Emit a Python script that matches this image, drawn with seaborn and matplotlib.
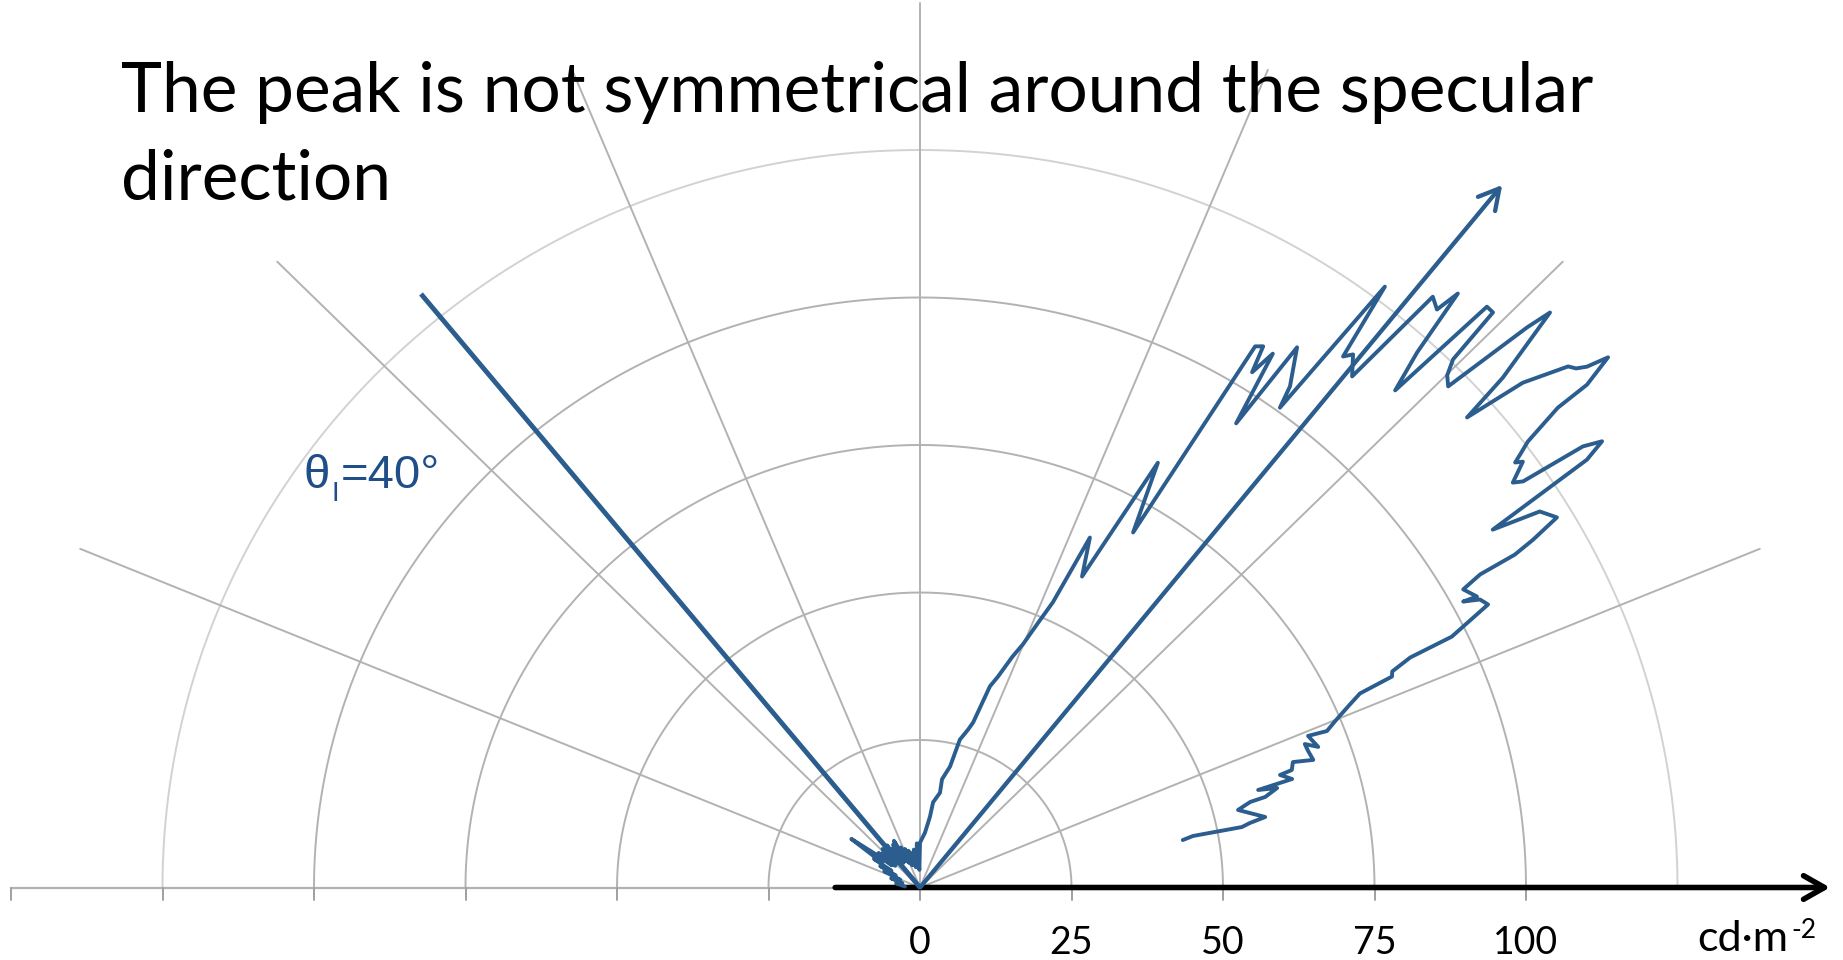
import numpy as np
import pandas as pd
import matplotlib
matplotlib.use("Agg")
import matplotlib.pyplot as plt
import seaborn as sns
from matplotlib.patches import FancyArrowPatch

# ---------------- data ----------------
# viewing angle (deg from the surface normal, + = towards specular side) and luminance (cd/m^2)
view_angle_deg = [
    -86, -80, -76, -72, -68, -65, -63, -61, -59, -57.5, -56, -54, -52.5, -51, -49.5, -48, -46.5,
    -45, -43.5, -42, -40.5, -39, -37.5, -36, -34.5, -33, -31.5, -30, -28.5, -27, -25, -23, -21,
    -19, -17, -15, -13, -11, -9, -7, -5, -4, -2,
    0, 5, 7.8, 8.5, 11.6, 11.2, 13.6, 14.7, 16.5, 17.4, 18.7, 19.8, 21.3, 22.4, 23.5, 24.4,
    25.3, 26.9, 28.6, 30.3,
    31.09, 31.69, 32.11, 32.76, 33.55, 34.2, 35.71, 36.14, 36.99, 37.8, 38.34, 39.46, 40.2,
    41.05, 41.4, 42.13, 42.94, 43.54, 44.13, 44.5, 45.06, 45.74, 46.54, 46.85, 48.06, 48.57,
    49.3, 50.45, 50.9, 51.27, 51.64, 52.25, 52.31, 53.0, 53.45, 53.74, 54.04, 54.95, 55.33,
    55.65, 56.1, 56.62, 57.31, 58.07, 59.17, 59.77, 60.11, 60.14, 60.59, 61.78, 61.6, 62.15,
    62.9, 64.15, 64.27, 64.83, 65.34, 65.63, 66.39, 67.66, 68.45, 68.14, 70.07, 69.05, 70.13,
    71.57, 70.94, 72.02, 72.2, 73.33, 73.5, 74.03, 74.92, 75.1, 75.94, 78.15, 78.65, 79.08,
    79.03, 79.49,
]
luminance = [
    2.5, 4, 3, 5, 3.5, 6.5, 4.5, 7.5, 5.5, 9, 7.5, 14, 9.5, 6, 9, 5.5, 8.5,
    6, 9, 5.5, 8.5, 6, 9, 5.5, 8, 5, 8.5, 6, 9, 5, 7.5, 4.5, 7,
    4, 6.5, 4, 6, 3.5, 6.5, 4, 6, 7.5, 3,
    7.6, 9.3, 12.1, 14.6, 16.4, 18.7, 21.1, 25.9, 27.9, 29.3, 36.0, 38.0, 42.0, 44.6, 49.0, 53.1,
    65.6, 59.1, 82.0, 69.7,
    107.1, 107.8, 103.1, 107.6, 94.4, 110.7, 104.6, 100.7, 127.5, 113.9, 115.2, 112.2, 131.1,
    129.9, 134.2, 122.3, 115.1, 135.8, 135.8, 125.5, 122.9, 121.7, 138.0, 142.5, 129.3, 120.4,
    131.2, 138.7, 139.5, 141.1, 144.8, 139.2, 133.0, 125.6, 123.3, 121.8, 122.9, 119.5, 121.0,
    132.5, 135.6, 131.8, 112.3, 120.5, 122.4, 117.1, 113.2, 106.6, 102.9, 104.3, 101.9, 104.5,
    105.3, 97.5, 89.8, 86.1, 85.7, 79.7, 77.4, 74.0, 72.2, 69.0, 69.9, 68.0, 68.1,
    68.4, 65.1, 64.5, 62.4, 64.1, 58.2, 61.3, 59.0, 56.4, 54.1, 58.2, 55.5, 54.1,
    45.9, 44.1,
]

incident_angle_deg = -39.3
incident_length = 130
specular_angle_deg = 38.9
specular_length = 153

ring_radii = [25, 50, 75, 100, 125]
spoke_angles_deg = [-67.5, -45, -22.5, 0, 22.5, 45, 67.5]
spoke_length = 150
axis_ticks = [-150, -125, -100, -75, -50, -25, 0, 25, 50, 75, 100]
tick_label_values = [0, 25, 50, 75, 100]
tick_labels = ["0", "25", "50", "75", "100"]

title_line1 = "The peak is not symmetrical around the specular"
title_line2 = "direction"
unit_text = "cd·m"
unit_sup = "-2"

# ---------------- style ----------------
sns.set_theme(style="white")
plt.rcParams["font.family"] = ["Lato", "DejaVu Sans"]

BLUE = "#2b5d8e"
TEXT_BLUE = "#1f4e89"
GRID = "#b2b2b2"
GRID_LIGHT = "#d2d2d2"

W, H = 1843, 960
fig = plt.figure(figsize=(W / 100, H / 100), dpi=100)
ax = fig.add_axes([0, 0, 1, 1])
ox, oy, sx, sy = 920.0, 887.5, 6.06, 5.9
ax.set_xlim(-ox / sx, (W - ox) / sx)
ax.set_ylim(-(H - oy) / sy, oy / sy)
ax.axis("off")

def fig_px(x, y):
    return (x / W, 1 - y / H)

# rings
t = np.linspace(0, np.pi, 181)
for r in ring_radii:
    col = GRID_LIGHT if r == max(ring_radii) else GRID
    ax.plot(r * np.cos(t), r * np.sin(t), color=col, lw=1.4, zorder=1)

# spokes
for a in spoke_angles_deg:
    ar = np.radians(a)
    ax.plot([0, spoke_length * np.sin(ar)], [0, spoke_length * np.cos(ar)],
            color=GRID, lw=1.4, zorder=1)

# grey baseline with ticks
ax.plot([axis_ticks[0], axis_ticks[-1]], [0, 0], color=GRID, lw=1.6, zorder=1)
for tk in axis_ticks:
    ax.plot([tk, tk], [0, -12 / sy], color="#a0a0a0", lw=1.4, zorder=1)

# black axis arrow
ax.add_patch(FancyArrowPatch((-14, 0), ((1830 - ox) / sx, 0),
                             arrowstyle="->,head_length=1.5,head_width=0.85",
                             mutation_scale=10, lw=4.0, color="black",
                             shrinkA=0, shrinkB=0, zorder=3))

# measured luminance curve
va = np.radians(np.array(view_angle_deg))
lum = np.array(luminance)
df = pd.DataFrame({"x": lum * np.sin(va), "y": lum * np.cos(va)})
sns.lineplot(data=df, x="x", y="y", sort=False, estimator=None, color=BLUE,
             lw=2.8, ax=ax, zorder=4)

# incident direction
ia = np.radians(incident_angle_deg)
ax.plot([0, incident_length * np.sin(ia)], [0, incident_length * np.cos(ia)],
        color=BLUE, lw=3.5, solid_capstyle="butt", zorder=4)

# specular direction arrow
sa = np.radians(specular_angle_deg)
ax.add_patch(FancyArrowPatch((0, 0), (specular_length * np.sin(sa), specular_length * np.cos(sa)),
                             arrowstyle="->,head_length=1.45,head_width=0.8",
                             mutation_scale=10, lw=3.1, color=BLUE,
                             shrinkA=0, shrinkB=0, zorder=4))

# tick labels
for v, lab in zip(tick_label_values, tick_labels):
    fig.text(*fig_px(ox + v * sx, 954), lab, ha="center", va="baseline",
             fontsize=27, color="black")

# unit label with superscript placed right after the main text
ut = fig.text(*fig_px(1697, 951), unit_text, ha="left", va="baseline", fontsize=31, color="black")
fig.canvas.draw()
bb = ut.get_window_extent(renderer=fig.canvas.get_renderer())
fig.text((bb.x1 + 3) / W, 1 - 938 / H, unit_sup, ha="left", va="baseline",
         fontsize=19, color="black")

# title
fig.text(*fig_px(121, 112), title_line1, ha="left", va="baseline", fontsize=50, color="black")
fig.text(*fig_px(121, 199), title_line2, ha="left", va="baseline", fontsize=50, color="black")

# incidence label
lab_font = ["Liberation Sans", "DejaVu Sans"]
fig.text(*fig_px(304, 488), "θ", ha="left", va="baseline", fontsize=34,
         color=TEXT_BLUE, family=lab_font)
fig.text(*fig_px(332, 501), "I", ha="left", va="baseline", fontsize=20,
         color=TEXT_BLUE, family=lab_font)
fig.text(*fig_px(341, 488), "=40°", ha="left", va="baseline", fontsize=34,
         color=TEXT_BLUE, family=lab_font)

fig.savefig("out.png", dpi=100)
